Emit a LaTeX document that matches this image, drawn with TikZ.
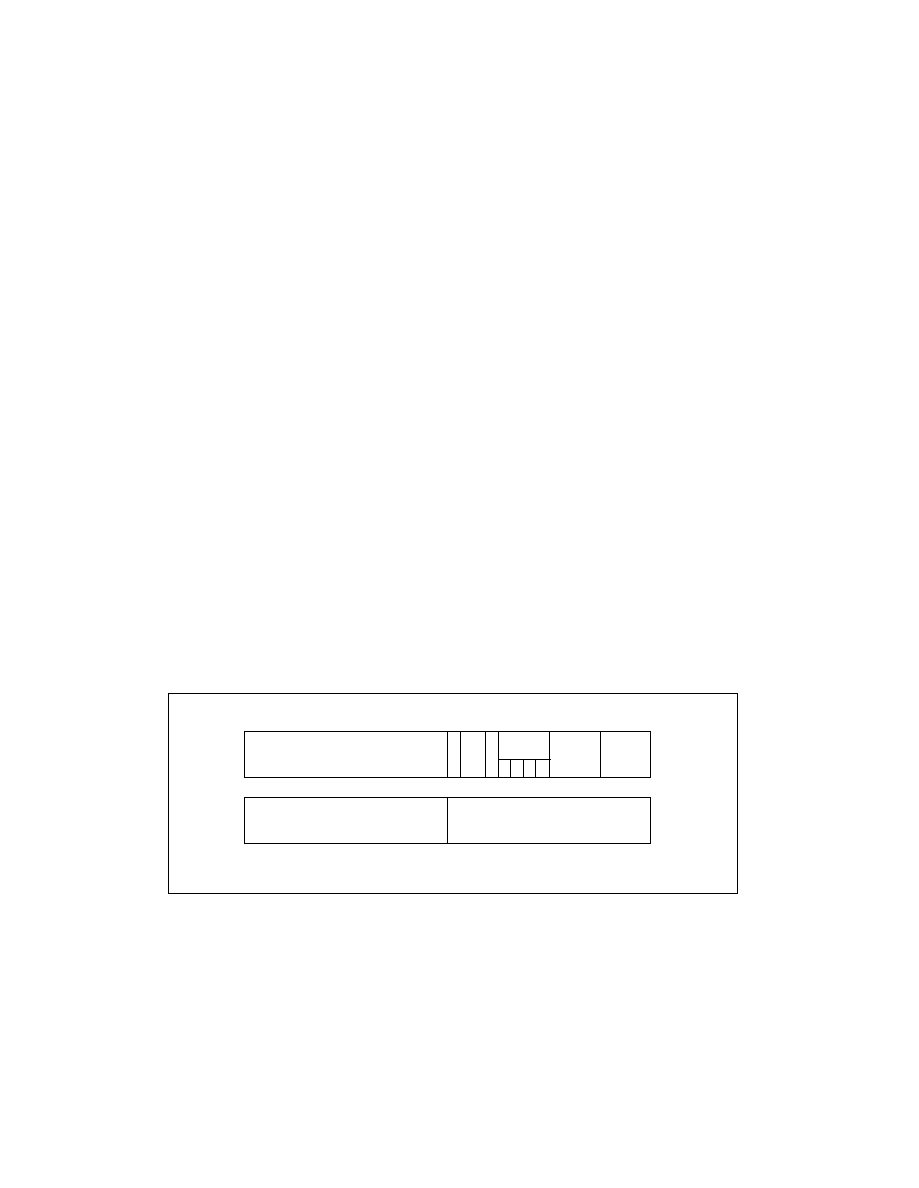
\documentclass[tikz,border=0pt]{standalone}
\begin{document}
\begin{tikzpicture}[x=1pt,y=-1pt,line width=1pt,
  cell/.style={draw=black}]
\useasboundingbox[fill=white] (0,0) rectangle (918,1188);
% outer frame
\draw[cell] (168,693) rectangle (737,893);
% top row
\draw[cell] (244.5,731.5) rectangle (650.5,777);
\foreach \x in {447.3,460.3,485.7,498.3,549.3,600.3}
  \draw[cell] (\x,731.5) -- (\x,777);
\draw[cell] (498.3,759.3) -- (550.5,759.3);
\foreach \x in {510.3,523.3,535.7}
  \draw[cell] (\x,759.3) -- (\x,777);
% bottom row
\draw[cell] (244.5,797.7) rectangle (650.5,843);
\draw[cell] (447.3,797.7) -- (447.3,843);
\end{tikzpicture}
\end{document}
